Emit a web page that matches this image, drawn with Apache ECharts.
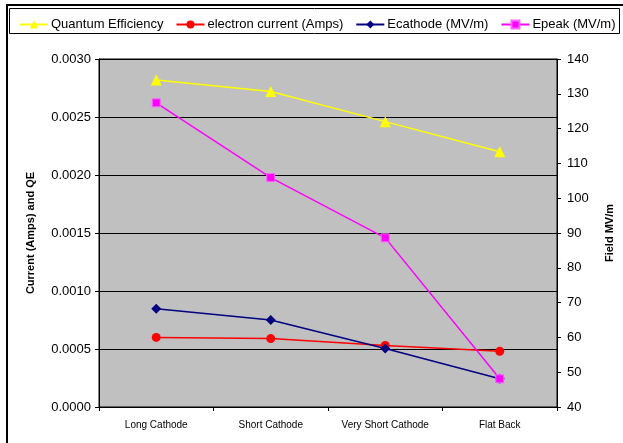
<!DOCTYPE html>
<html><head><meta charset="utf-8">
<script src="https://cdn.jsdelivr.net/npm/echarts@6/dist/echarts.min.js"></script>
<style>html,body{margin:0;padding:0;background:#fff}#c{width:623px;height:443px}</style>
</head><body><div id="c"></div>
<script>
const categories = ['Long Cathode', 'Short Cathode', 'Very Short Cathode', 'Flat Back'];
const quantumEfficiency = [0.00282, 0.00272, 0.00246, 0.00220];
const electronCurrent = [0.00060, 0.00059, 0.00053, 0.00048];
const ecathode = [68.2, 65.0, 56.8, 48.1];
const epeak = [127.4, 105.9, 88.6, 48.1];
const leftTicks = {min: 0, max: 0.003, interval: 0.0005};
const rightTicks = {min: 40, max: 140, interval: 10};

const chart = echarts.init(document.getElementById('c'), null, {renderer: 'canvas'});
const font = 'Liberation Sans, Arial, sans-serif';
chart.setOption({
  animation: false,
  backgroundColor: '#fff',
  textStyle: {fontFamily: font},
  graphic: [
    {type: 'rect', shape: {x: 7, y: 5, width: 630, height: 460}, style: {fill: 'none', stroke: '#000', lineWidth: 2}, z: -1},
    {type: 'rect', shape: {x: 9.5, y: 8.5, width: 610, height: 25}, style: {fill: '#fff', stroke: '#000', lineWidth: 1}, z: 0}
  ],
  legend: {
    top: 13, left: 14, itemGap: 12, itemWidth: 28, itemHeight: 10,
    textStyle: {fontFamily: font, fontSize: 13, color: '#000', padding: [0,0,0,-2]},
    data: ['Quantum Efficiency', 'electron current (Amps)', 'Ecathode (MV/m)', 'Epeak (MV/m)']
  },
  grid: {left: 99, right: 66, top: 59, bottom: 36, show: true, backgroundColor: '#c0c0c0', borderColor: '#000', borderWidth: 1},
  xAxis: {
    type: 'category', data: categories, boundaryGap: true,
    axisLine: {lineStyle: {color: '#000'}},
    axisTick: {show: true, inside: false, length: 4, lineStyle: {color: '#000'}},
    axisLabel: {fontSize: 10, color: '#000', margin: 13, fontFamily: font}
  },
  yAxis: [
    {
      type: 'value', min: leftTicks.min, max: leftTicks.max, interval: leftTicks.interval,
      name: 'Current (Amps) and QE', nameLocation: 'middle', nameGap: 63, nameRotate: 90,
      nameTextStyle: {fontWeight: 'bold', fontSize: 11, color: '#000', fontFamily: font},
      axisLine: {show: true, lineStyle: {color: '#000'}},
      axisTick: {show: true, length: 4, lineStyle: {color: '#000'}},
      axisLabel: {fontSize: 13, color: '#000', margin: 8, formatter: v => v.toFixed(4), fontFamily: font},
      splitLine: {show: true, lineStyle: {color: '#000', width: 1}}
    },
    {
      type: 'value', min: rightTicks.min, max: rightTicks.max, interval: rightTicks.interval, position: 'right',
      name: 'Field MV/m', nameLocation: 'middle', nameGap: 47, nameRotate: 90,
      nameTextStyle: {fontWeight: 'bold', fontSize: 11, color: '#000', fontFamily: font},
      axisLine: {show: true, lineStyle: {color: '#000'}},
      axisTick: {show: true, length: 4, inside: false, lineStyle: {color: '#000'}},
      axisLabel: {fontSize: 13, color: '#000', margin: 10, fontFamily: font},
      splitLine: {show: false}
    }
  ],
  series: [
    {name: 'Quantum Efficiency', type: 'line', yAxisIndex: 0, data: quantumEfficiency,
     symbol: 'triangle', symbolSize: 11, color: '#ffff00', lineStyle: {width: 1.5, color: '#ffff00'}, itemStyle: {color: '#ffff00'}},
    {name: 'electron current (Amps)', type: 'line', yAxisIndex: 0, data: electronCurrent,
     symbol: 'circle', symbolSize: 9, color: '#ff0000', lineStyle: {width: 1.5, color: '#ff0000'}, itemStyle: {color: '#ff0000'}},
    {name: 'Ecathode (MV/m)', type: 'line', yAxisIndex: 1, data: ecathode,
     symbol: 'diamond', symbolSize: 10, color: '#000080', lineStyle: {width: 1.5, color: '#000080'}, itemStyle: {color: '#000080'}},
    {name: 'Epeak (MV/m)', type: 'line', yAxisIndex: 1, data: epeak,
     symbol: 'rect', symbolSize: 8, color: '#ff00ff', lineStyle: {width: 1.5, color: '#ff00ff'}, itemStyle: {color: '#ff00ff', borderColor: '#ff66ff', borderWidth: 1}}
  ]
});
</script></body></html>
